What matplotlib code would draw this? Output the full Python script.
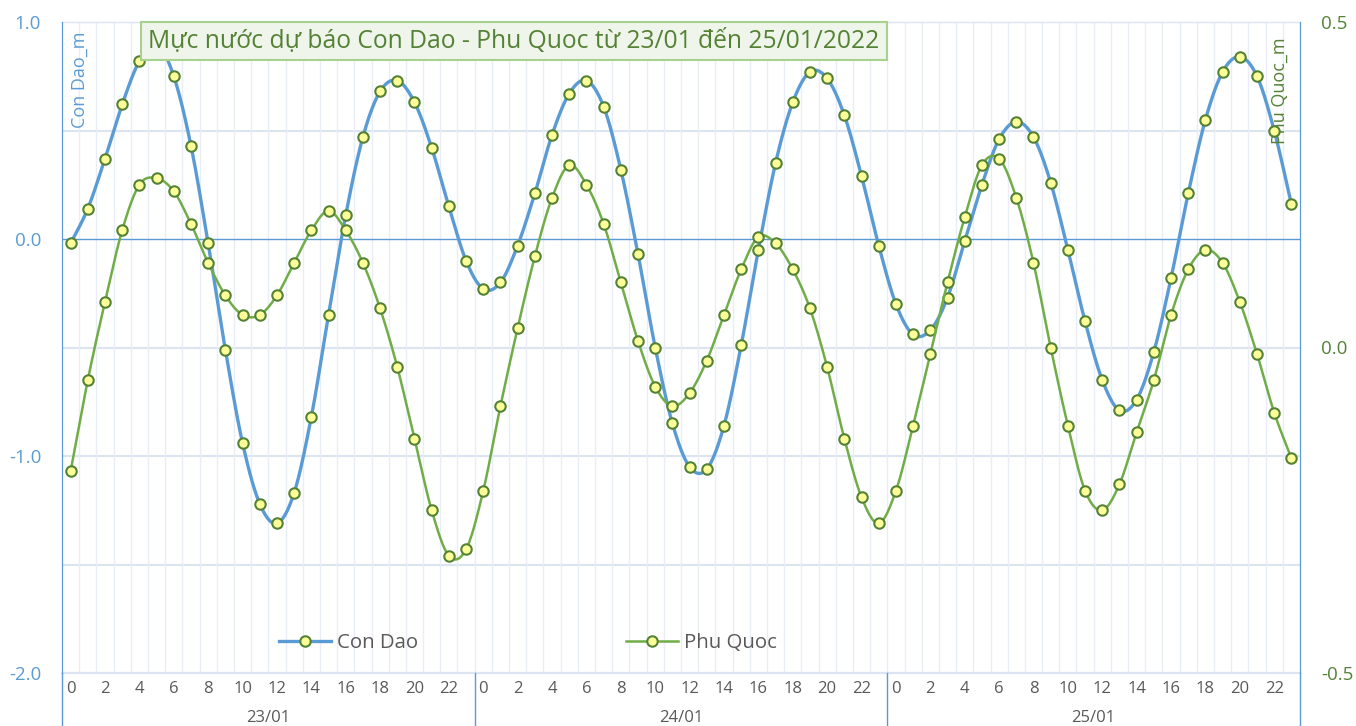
"""Mực nước dự báo Con Dao - Phu Quoc, 23/01 -> 25/01/2022.

Writes: out.png
"""

from __future__ import annotations

import matplotlib
matplotlib.use("Agg")
import matplotlib.pyplot as plt
import numpy as np

DAYS = ["23/01", "24/01", "25/01"]
HOURS = list(range(24))

# hourly forecast, metres
CON_DAO = [
    -0.02, 0.14, 0.37, 0.62, 0.82, 0.90, 0.75, 0.43, -0.02, -0.51, -0.94, -1.22,
    -1.31, -1.17, -0.82, -0.35, 0.11, 0.47, 0.68, 0.73, 0.63, 0.42, 0.15, -0.10,
    -0.23, -0.20, -0.03, 0.21, 0.48, 0.67, 0.73, 0.61, 0.32, -0.07, -0.50, -0.85,
    -1.05, -1.06, -0.86, -0.49, -0.05, 0.35, 0.63, 0.77, 0.74, 0.57, 0.29, -0.03,
    -0.30, -0.44, -0.42, -0.27, -0.01, 0.25, 0.46, 0.54, 0.47, 0.26, -0.05, -0.38,
    -0.65, -0.79, -0.74, -0.52, -0.18, 0.21, 0.55, 0.77, 0.84, 0.75, 0.50, 0.16,
]
PHU_QUOC = [
    -0.19, -0.05, 0.07, 0.18, 0.25, 0.26, 0.24, 0.19, 0.13, 0.08, 0.05, 0.05,
    0.08, 0.13, 0.18, 0.21, 0.18, 0.13, 0.06, -0.03, -0.14, -0.25, -0.32, -0.31,
    -0.22, -0.09, 0.03, 0.14, 0.23, 0.28, 0.25, 0.19, 0.10, 0.01, -0.06, -0.09,
    -0.07, -0.02, 0.05, 0.12, 0.17, 0.16, 0.12, 0.06, -0.03, -0.14, -0.23, -0.27,
    -0.22, -0.12, -0.01, 0.10, 0.20, 0.28, 0.29, 0.23, 0.13, 0.00, -0.12, -0.22,
    -0.25, -0.21, -0.13, -0.05, 0.05, 0.12, 0.15, 0.13, 0.07, -0.01, -0.10, -0.17,
]

TITLE = "Mực nước dự báo Con Dao - Phu Quoc từ 23/01 đến 25/01/2022"

BLUE = "#5B9BD5"
GREEN = "#70AD47"
DARK_GREEN = "#548235"
GREY = "#595959"
GRID = "#DCE4F2"
FONT = ["Open Sans", "DejaVu Sans"]


def _smooth(x, y, n=16):
    """Excel-like smoothed line: cubic Bezier through the points."""
    x = np.asarray(x, float)
    y = np.asarray(y, float)
    px = np.concatenate([[x[0]], x, [x[-1]]])
    py = np.concatenate([[y[0]], y, [y[-1]]])
    t = np.linspace(0, 1, n, endpoint=False)[:, None]
    xs, ys = [], []
    for i in range(len(x) - 1):
        p0 = np.array([px[i + 1], py[i + 1]])
        p3 = np.array([px[i + 2], py[i + 2]])
        p1 = p0 + (p3 - np.array([px[i], py[i]])) / 6
        p2 = p3 - (np.array([px[i + 3], py[i + 3]]) - p0) / 6
        pts = ((1 - t) ** 3 * p0 + 3 * (1 - t) ** 2 * t * p1
               + 3 * (1 - t) * t ** 2 * p2 + t ** 3 * p3)
        xs.append(pts[:, 0])
        ys.append(pts[:, 1])
    xs.append([x[-1]])
    ys.append([y[-1]])
    return np.concatenate(xs), np.concatenate(ys)


def main() -> None:
    plt.rcParams["font.family"] = FONT
    n = len(DAYS) * len(HOURS)
    hx = np.arange(n)

    fig = plt.figure(figsize=(13.56, 7.26), dpi=100)
    ax = fig.add_axes([62 / 1356, 1 - 673 / 726, 1238 / 1356, 651 / 726])
    ax2 = ax.twinx()

    # --- grid ---
    for v in np.arange(-2.0, 1.01, 0.5):
        if abs(v) < 1e-9:
            continue
        ax.axhline(v, color=GRID, lw=1.5, zorder=0)
    ax.axhline(0, color=BLUE, lw=1, zorder=1)
    for b in np.arange(0.5, n - 1, 1.0):
        ax.axvline(b, color="#E8EDF7", lw=1, zorder=0)

    ax.set_xlim(-0.5, n - 0.5)
    ax.set_ylim(-2.0, 1.0)
    ax2.set_ylim(-0.5, 0.5)

    # --- series ---
    mk = dict(marker="o", ms=7.5, mfc="#FFFF99", mec=DARK_GREEN, mew=1.5)
    sx, sy = _smooth(hx, CON_DAO)
    ax.plot(sx, sy, color=BLUE, lw=2.4, zorder=3, solid_capstyle="round")
    ax.plot(hx, CON_DAO, ls="none", zorder=4, **mk)
    sx, sy = _smooth(hx, PHU_QUOC)
    ax2.plot(sx, sy, color=GREEN, lw=1.8, zorder=3)
    ax2.plot(hx, PHU_QUOC, ls="none", zorder=4, **mk)

    # --- axes styling ---
    for a in (ax, ax2):
        for side in ("top", "bottom"):
            a.spines[side].set_visible(False)
        a.spines["left"].set_color(BLUE)
        a.spines["right"].set_color(BLUE)
        a.tick_params(length=0)
    ax.axhline(-2.0, color=GRID, lw=1.5, zorder=0, clip_on=False)
    ax.axhline(1.0, color=GRID, lw=1.0, zorder=0, clip_on=False)

    ax.set_yticks([1.0, 0.0, -1.0, -2.0])
    ax.set_yticklabels(["1.0", "0.0", "-1.0", "-2.0"], color=BLUE, fontsize=13.5)
    ax.tick_params(axis="y", pad=15)
    ax2.set_yticks([0.5, 0.0, -0.5])
    ax2.set_yticklabels(["0.5", "0.0", "-0.5"], color=DARK_GREEN,
                        fontsize=13.5)
    ax2.tick_params(axis="y", pad=15)

    ticks = [h for h in hx if h % 2 == 0]
    ax.set_xticks(ticks)
    ax.set_xticklabels([str(h % 24) for h in ticks], color=GREY, fontsize=12)
    ax.tick_params(axis="x", pad=6)

    # day groups under the hour labels
    xt = ax.get_xaxis_transform()
    for d in range(len(DAYS) + 1):
        ax.plot([d * 24 - 0.5] * 2, [0, -0.085], transform=xt, color=BLUE,
                lw=1, clip_on=False)
    for d, day in enumerate(DAYS):
        ax.text(d * 24 + 11.5, -0.069, day, transform=xt, ha="center",
                va="center", color=GREY, fontsize=12)

    ax.text(0.0145, 0.911, "Con Dao_m", transform=ax.transAxes, rotation=90,
            ha="center", va="center", color=BLUE, fontsize=13)
    ax.text(0.984, 0.895, "Phu Quoc_m", transform=ax.transAxes, rotation=90,
            ha="center", va="center", color=DARK_GREEN, fontsize=13)

    fig.text(514 / 1356, 1 - 41 / 726, TITLE, ha="center", va="center",
             fontsize=17.7, color=DARK_GREEN, zorder=10,
             bbox=dict(boxstyle="square,pad=0.28", fc="#EFF5EA", ec="#A9D18E",
                       lw=1.5))

    handles = [
        plt.Line2D([], [], color=BLUE, lw=2.4, **mk),
        plt.Line2D([], [], color=GREEN, lw=1.8, **mk),
    ]
    ax2.legend(handles, ["Con Dao", "Phu Quoc"], ncol=2, frameon=False,
               loc="center", bbox_to_anchor=(528 / 1356, 1 - 643 / 726),
               bbox_transform=fig.transFigure, fontsize=14.7,
               handlelength=2.55, handletextpad=0.3, columnspacing=10.2,
               labelcolor=GREY)

    fig.savefig("out.png", dpi=100)
    plt.close(fig)


if __name__ == "__main__":
    main()
